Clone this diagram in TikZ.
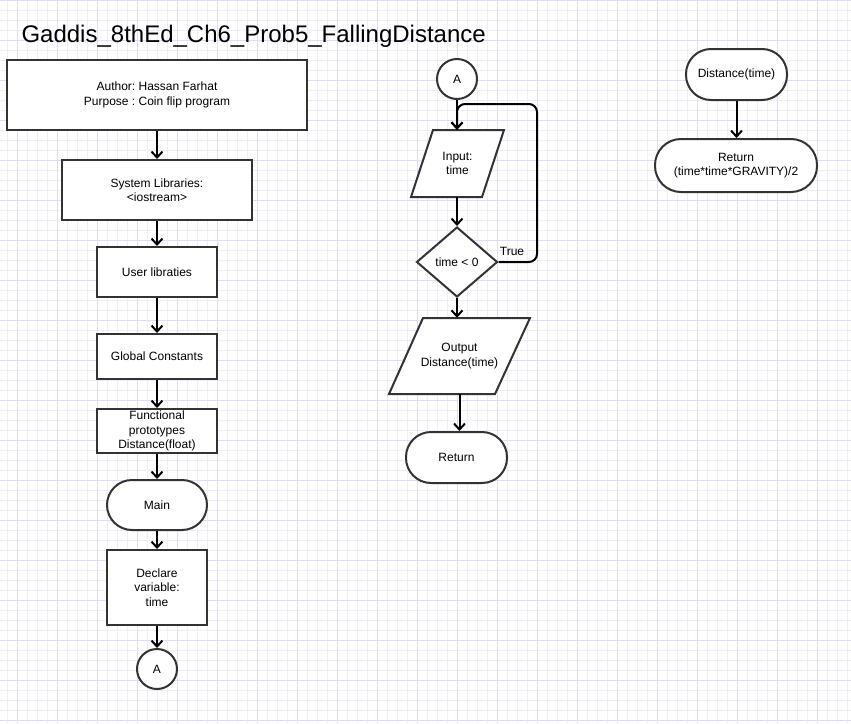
\documentclass[tikz,border=0pt]{standalone}
\usepackage{fontspec}
\setmainfont{Liberation Sans}
\usepackage{xcolor}
\usetikzlibrary{shapes.geometric,arrows.meta}
\definecolor{gridmin}{RGB}{238,238,250}
\definecolor{gridmaj}{RGB}{222,222,245}
\frenchspacing

\begin{document}
\begin{tikzpicture}[x=1pt,y=-1pt,
	font=\fontsize{12}{14.5}\selectfont,
	box/.style={draw=black!80, line width=2pt, fill=white, rectangle, align=center, inner sep=0pt},
	term/.style={box, rounded corners=25pt},
	conn/.style={box, circle, minimum size=40pt},
	iotext/.style={rectangle, align=center, inner sep=0pt},
	ioline/.style={draw=black!80, fill=white, line width=2pt},
	decision/.style={box, diamond},
	flow/.style={line width=2pt, black, -{Straight Barb[length=6pt,width=11pt]}}]
	% Background grid
	\useasboundingbox (0,0) rectangle (851,723);
	\fill[white] (0,0) rectangle (851,723);
	\foreach \gx in {7,17,...,847} \draw[gridmin, line width=1pt] (\gx,0) -- (\gx,723);
	\foreach \gy in {0.7,10.7,...,720.7} \draw[gridmin, line width=1pt] (0,\gy) -- (851,\gy);
	\foreach \gx in {17,57,...,817} \draw[gridmaj, line width=1pt] (\gx,0) -- (\gx,723);
	\foreach \gy in {0.7,40.7,...,720.7} \draw[gridmaj, line width=1pt] (0,\gy) -- (851,\gy);
	
	% Title
	\node[anchor=base west, font=\fontsize{24}{28}\selectfont] (title) at (18,42) {Gaddis\_8thEd\_Ch6\_Prob5\_FallingDistance};
	
	% Main program
	\node[box, minimum width=300, minimum height=70] (author) at (157,95) {Author: Hassan Farhat\\Purpose : Coin flip program};
	\node[box, minimum width=190, minimum height=60] (syslib) at (157,190) {System Libraries:\\<iostream>};
	\node[box, minimum width=120, minimum height=50] (userlib) at (157,272) {User libraties};
	\node[box, minimum width=120, minimum height=45] (globals) at (157,356.5) {Global Constants};
	\node[box, minimum width=120, minimum height=44] (protos) at (157,431) {Functional\\prototypes\\Distance(float)};
	\node[term, minimum width=100, minimum height=50] (main) at (157,505) {Main};
	\node[box, minimum width=100, minimum height=75] (declare) at (157,587.5) {Declare\\variable:\\time};
	\node[conn] (offA) at (157,669) {A};
	\foreach \a/\b in {author/syslib, syslib/userlib, userlib/globals, globals/protos, protos/main, main/declare, declare/offA}
		\draw[flow] (\a) -- (\b);
	
	% Input loop
	\node[conn] (onA) at (457,79) {A};
	\filldraw[ioline] (411,197) -- (482,197) -- (504,130) -- (433,130) -- cycle;
	\node[iotext, minimum width=71, minimum height=67] (input) at (457.5,163.5) {Input:\\time};
	\node[decision, minimum width=81, minimum height=70] (check) at (457,262) {time < 0};
	\filldraw[ioline] (389,394) -- (495,394) -- (530,318) -- (423,318) -- cycle;
	\node[iotext, minimum width=107, minimum height=76] (output) at (459.5,356) {Output\\Distance(time)};
	\node[term, minimum width=101, minimum height=51] (ret) at (456.5,457.5) {Return};
	\coordinate (loop) at (537,104);
	\draw[flow] (onA) -- (onA |- input.north);
	\draw[flow, rounded corners=8pt] (check.east) -| (loop) -| (onA |- input.north);
	\node (truelbl) at (512,251) {True};
	\draw[flow] (onA |- input.south) -- (onA |- check.north);
	\draw[flow] (check) -- (check |- output.north);
	\draw[flow] (output) -- (output |- ret.north);
	
	% Function
	\node[term, minimum width=101, minimum height=51] (fdist) at (736.5,74.5) {Distance(time)};
	\node[term, minimum width=162, minimum height=53, rounded corners=26pt] (fret) at (736,165.5) {Return\\(time*time*GRAVITY)/2};
	\draw[flow] (fdist) -- (fdist |- fret.north);
\end{tikzpicture}
\end{document}
